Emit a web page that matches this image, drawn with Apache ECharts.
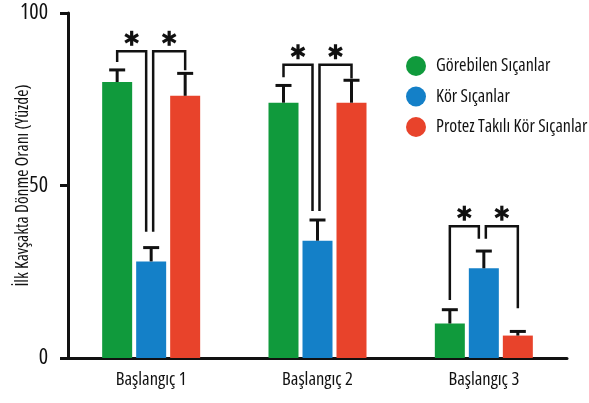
<!DOCTYPE html>
<html>
<head>
<meta charset="utf-8">
<script src="https://cdn.jsdelivr.net/npm/echarts@6/dist/echarts.min.js"></script>
<style>
  html, body { margin: 0; padding: 0; background: #fff; }
  #chart { width: 589px; height: 403px; }
</style>
</head>
<body>
<div id="chart"></div>
<script>
const categories = ['Başlangıç 1', 'Başlangıç 2', 'Başlangıç 3'];
const seriesNames = ['Görebilen Sıçanlar', 'Kör Sıçanlar', 'Protez Takılı Kör Sıçanlar'];
const sightedValues = [80, 74, 10];
const blindValues = [28, 34, 26];
const prostheticValues = [76, 74, 6.5];
const sightedErrors = [3.5, 5, 4];
const blindErrors = [4, 6, 5];
const prostheticErrors = [6.5, 6.5, 1.2];
const yTicks = [0, 50, 100];
// significance brackets: [category, fromBar, toBar, topValue, fromEndValue, toEndValue]
const brackets = [
  [0, 0, 1, 88.9, 85.8, 36.6],
  [0, 1, 2, 88.9, 36.6, 83.4],
  [1, 0, 1, 85.0, 81.4, 42.6],
  [1, 1, 2, 85.0, 42.6, 81.0],
  [2, 0, 1, 38.2, 16.8, 34.6],
  [2, 1, 2, 38.2, 34.6, 14.4]
];

const colors = ['#109a3c', '#1480c8', '#e8432b'];
const INK = '#111';
// condensed Open Sans is the closest match to the original narrow face
const FONT = '"Open Sans", "Noto Sans", sans-serif';
const NARROW = 'condensed';
const BAR_W = 30;
const BAR_GAP = 4;

function barOffset(idx) {
  return (idx - 1) * (BAR_W + BAR_GAP);
}

function errorBarSeries(barIdx, values, errors) {
  return {
    type: 'custom',
    silent: true,
    z: 3,
    data: values.map((v, i) => [i, v, v + errors[i]]),
    encode: { x: 0, y: [1, 2] },
    renderItem(params, api) {
      const base = api.coord([api.value(0), api.value(1)]);
      const top = api.coord([api.value(0), api.value(2)]);
      const x = base[0] + barOffset(barIdx);
      const style = { stroke: INK, lineWidth: 3 };
      return {
        type: 'group',
        children: [
          { type: 'line', shape: { x1: x, y1: base[1], x2: x, y2: top[1] }, style },
          { type: 'line', shape: { x1: x - 8, y1: top[1], x2: x + 8, y2: top[1] }, style }
        ]
      };
    }
  };
}

function star(cx, cy, r) {
  return [90, 30, -30].map(deg => {
    const a = deg * Math.PI / 180;
    const dx = r * Math.cos(a), dy = r * Math.sin(a);
    return {
      type: 'line',
      shape: { x1: cx - dx, y1: cy - dy, x2: cx + dx, y2: cy + dy },
      style: { stroke: INK, lineWidth: 3.2 }
    };
  });
}

const bracketSeries = {
  type: 'custom',
  silent: true,
  z: 4,
  data: brackets,
  encode: { x: 0, y: [3, 4, 5] },
  renderItem(params, api) {
    const cat = api.value(0);
    const fromBar = api.value(1), toBar = api.value(2);
    const topP = api.coord([cat, api.value(3)]);
    const fromP = api.coord([cat, api.value(4)]);
    const toP = api.coord([cat, api.value(5)]);
    const x1 = topP[0] + barOffset(fromBar) + (fromBar === 1 ? 2 : 0);
    const x2 = topP[0] + barOffset(toBar) + (toBar === 1 ? -5 : 0);
    const y = topP[1];
    return {
      type: 'group',
      children: [
        {
          type: 'polyline',
          shape: { points: [[x1, fromP[1]], [x1, y], [x2, y], [x2, toP[1]]] },
          style: { stroke: INK, lineWidth: 2.5, fill: null }
        },
        ...star((x1 + x2) / 2, y - 13, 7.5)
      ]
    };
  }
};

const barValues = [sightedValues, blindValues, prostheticValues];
const barErrors = [sightedErrors, blindErrors, prostheticErrors];

const chart = echarts.init(document.getElementById('chart'));
chart.setOption({
  animation: false,
  textStyle: { fontFamily: FONT, fontStyle: NARROW },
  grid: { left: 68, right: 22, top: 13, bottom: 45, containLabel: false, outerBoundsMode: 'none' },
  legend: {
    orient: 'vertical',
    left: 401,
    top: 51,
    icon: 'circle',
    itemWidth: 20,
    itemHeight: 20,
    itemGap: 10.5,
    data: seriesNames,
    textStyle: { fontFamily: FONT, fontStyle: NARROW, fontSize: 18, color: INK, padding: [0, 0, 0, 5] }
  },
  xAxis: {
    type: 'category',
    data: categories,
    axisLine: { lineStyle: { color: INK, width: 3 } },
    axisTick: { show: false },
    axisLabel: { fontFamily: FONT, fontStyle: NARROW, fontSize: 18.5, color: INK, margin: 12 }
  },
  yAxis: {
    type: 'value',
    min: yTicks[0],
    max: yTicks[yTicks.length - 1],
    interval: yTicks[1] - yTicks[0],
    name: 'İlk Kavşakta Dönme Oranı (Yüzde)',
    nameLocation: 'middle',
    nameGap: 36,
    nameMoveOverlap: false,
    nameTextStyle: { fontFamily: FONT, fontStyle: NARROW, fontSize: 17.5, color: INK },
    axisLine: { show: true, lineStyle: { color: INK, width: 3 } },
    axisTick: { show: true, length: 8, lineStyle: { color: INK, width: 3 } },
    axisLabel: { fontFamily: FONT, fontStyle: NARROW, fontSize: 22, color: INK, margin: 20 },
    splitLine: { show: false }
  },
  series: [
    ...seriesNames.map((name, i) => ({
      name,
      type: 'bar',
      data: barValues[i],
      barWidth: BAR_W,
      barGap: (BAR_GAP / BAR_W * 100) + '%',
      itemStyle: { color: colors[i] },
      z: 2
    })),
    ...barErrors.map((errs, i) => errorBarSeries(i, barValues[i], errs)),
    bracketSeries
  ]
});
</script>
</body>
</html>
